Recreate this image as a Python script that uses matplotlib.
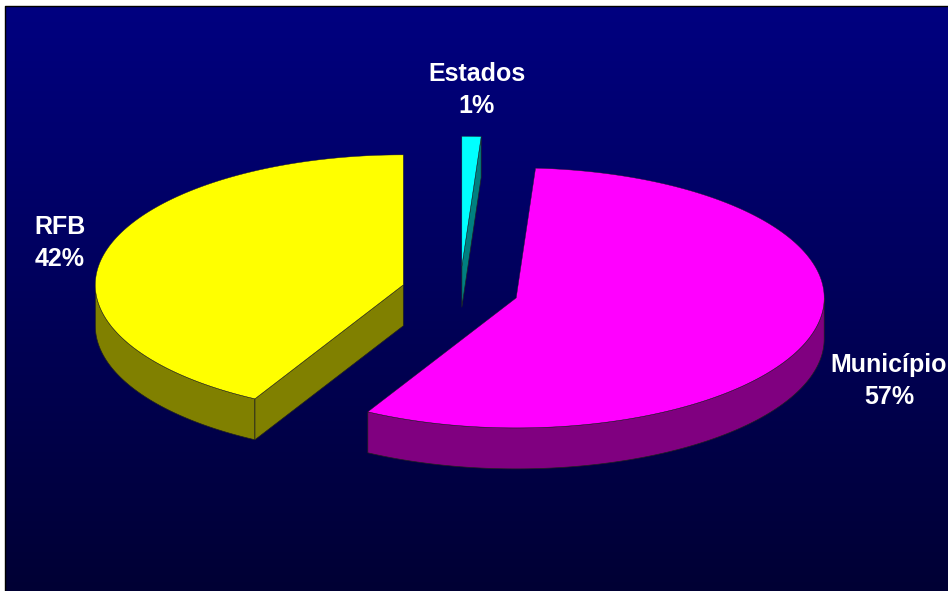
import numpy as np
import matplotlib
matplotlib.use("Agg")
import matplotlib.pyplot as plt
from matplotlib.patches import Polygon

# data
categories = ["Estados", "Município", "RFB"]
shares = [1, 57, 42]
top_colors = ["#00FFFF", "#FF00FF", "#FFFF00"]
side_colors = ["#008080", "#800080", "#808000"]

# layout (pixels)
W, H = 948, 591
cx, cy = 460, 291
rx, ry = 308, 130
depth = 41
explode = 0.19
start_angle = 90
label_xy = [(477, 90), (889, 381), (60, 243)]

fig = plt.figure(figsize=(W / 100, H / 100), dpi=100)
ax = fig.add_axes([0, 0, 1, 1])
ax.set_xlim(0, W)
ax.set_ylim(H, 0)
ax.axis("off")

# gradient background
grad = np.linspace(0, 1, 256)[:, None]
top_c = np.array([0, 0, 128]) / 255
bot_c = np.array([0, 0, 52]) / 255
img = top_c[None, None, :] * (1 - grad[:, :, None]) + bot_c[None, None, :] * grad[:, :, None]
ax.imshow(img, extent=(6, W, H, 6), aspect="auto", zorder=0)
ax.plot([5.5, 5.5, W], [H, 5.5, 5.5], color="black", lw=1, zorder=1)


def pt(sx, sy, t, dz=0):
	t = np.radians(t)
	return np.column_stack([sx + rx * np.cos(t), sy - ry * np.sin(t) + dz])


walls = []
tops = []
total = float(sum(shares))
hi = start_angle
for i, v in enumerate(shares):
	span = 360 * v / total
	lo = hi - span
	mid = np.radians((lo + hi) / 2)
	sx = cx + explode * rx * np.cos(mid)
	sy = cy - explode * ry * np.sin(mid)

	# curved outer wall on the front half
	for k in (-1, 0, 1):
		a0 = max(lo, 180 + 360 * k)
		a1 = min(hi, 360 + 360 * k)
		if a1 > a0:
			t = np.linspace(a0, a1, 150)
			poly = np.vstack([pt(sx, sy, t), pt(sx, sy, t[::-1], depth)])
			walls.append((poly, side_colors[i]))

	# flat radial walls
	for ang, normal in ((lo, lo - 90), (hi, hi + 90)):
		if np.sin(np.radians(normal)) < -1e-6:
			rim = pt(sx, sy, np.array([ang]))[0]
			poly = np.array([[sx, sy], rim, rim + [0, depth], [sx, sy + depth]])
			walls.append((poly, side_colors[i]))

	t = np.linspace(lo, hi, 300)
	top = np.vstack([[[sx, sy]], pt(sx, sy, t)])
	tops.append((top, top_colors[i]))
	hi = lo

for poly, c in walls:
	ax.add_patch(Polygon(poly, closed=True, facecolor=c, edgecolor="#202020", lw=0.5, zorder=2))
for poly, c in tops:
	ax.add_patch(Polygon(poly, closed=True, facecolor=c, edgecolor="#202020", lw=0.3, zorder=3))

for name, v, (lx, ly) in zip(categories, shares, label_xy):
	ax.text(lx, ly, "{}\n{}%".format(name, v), color="white", fontsize=18, fontweight="bold",
		family=["Liberation Sans", "DejaVu Sans"], ha="center", va="center",
		linespacing=1.45, zorder=4)

fig.savefig("out.png", dpi=100, facecolor="white")
